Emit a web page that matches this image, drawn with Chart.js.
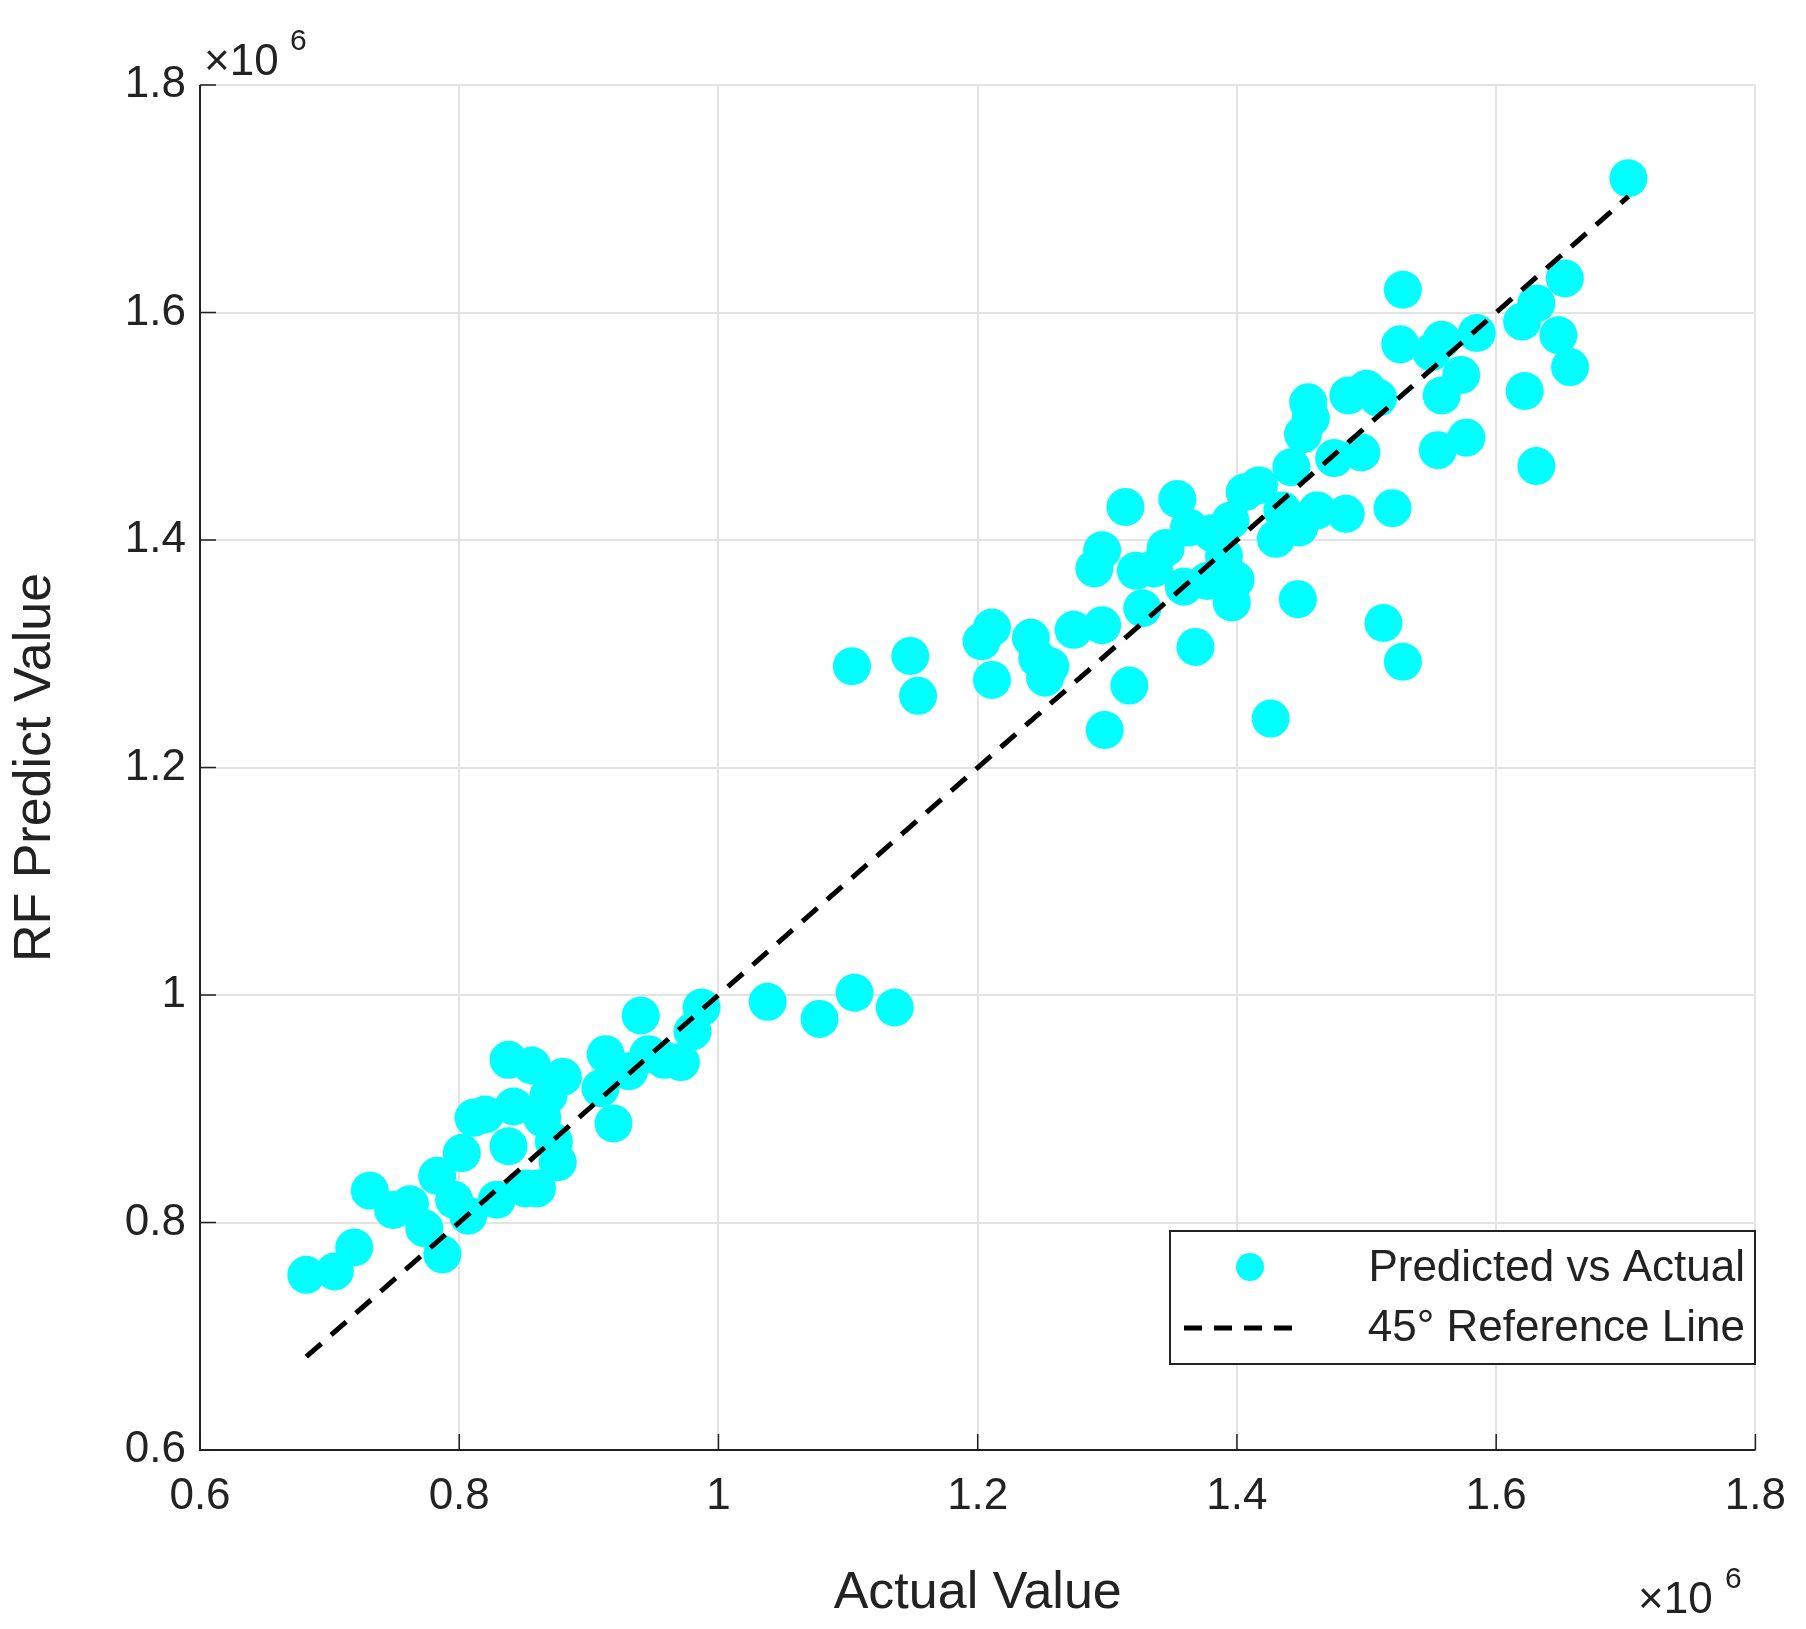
<!DOCTYPE html>
<html>
<head>
<meta charset="utf-8">
<script src="https://cdn.jsdelivr.net/npm/chart.js@4/dist/chart.umd.min.js"></script>
<style>
  body { margin: 0; background: #fff; }
  canvas { display: block; }
</style>
</head>
<body>
<canvas id="chart" width="1806" height="1629"></canvas>
<script>
// values in units of 1e6
const actual = [
  0.682, 0.704, 0.719, 0.731, 0.749, 0.762, 0.773, 0.783, 0.787, 0.796,
  0.802, 0.807, 0.811, 0.820, 0.829, 0.838, 0.838, 0.842, 0.851, 0.856,
  0.860, 0.864, 0.873, 0.876, 0.880, 0.869, 0.909, 0.913, 0.919, 0.931,
  0.940, 0.946, 0.958, 0.971, 0.980, 0.987, 1.038, 1.078, 1.105, 1.136,
  1.103, 1.148, 1.154, 1.203, 1.211, 1.211, 1.241, 1.246, 1.252, 1.256,
  1.274, 1.290, 1.296, 1.296, 1.298, 1.314, 1.317, 1.322, 1.327, 1.336,
  1.345, 1.354, 1.359, 1.363, 1.368, 1.377, 1.381, 1.390, 1.395, 1.396,
  1.399, 1.406, 1.417, 1.426, 1.430, 1.435, 1.442, 1.447, 1.448, 1.451,
  1.455, 1.457, 1.462, 1.475, 1.484, 1.486, 1.496, 1.500, 1.509, 1.513,
  1.520, 1.526, 1.528, 1.528, 1.550, 1.555, 1.558, 1.558, 1.573, 1.577,
  1.585, 1.620, 1.622, 1.631, 1.631, 1.648, 1.653, 1.657, 1.702
];
const predicted = [
  0.754, 0.757, 0.778, 0.828, 0.811, 0.816, 0.795, 0.841, 0.772, 0.820,
  0.861, 0.806, 0.892, 0.895, 0.820, 0.943, 0.867, 0.902, 0.830, 0.938,
  0.830, 0.892, 0.871, 0.853, 0.928, 0.912, 0.918, 0.948, 0.887, 0.933,
  0.982, 0.948, 0.943, 0.941, 0.968, 0.989, 0.994, 0.979, 1.002, 0.989,
  1.289, 1.298, 1.263, 1.311, 1.323, 1.277, 1.314, 1.296, 1.279, 1.289,
  1.321, 1.375, 1.391, 1.325, 1.233, 1.429, 1.272, 1.373, 1.340, 1.375,
  1.393, 1.436, 1.359, 1.411, 1.306, 1.364, 1.406, 1.386, 1.417, 1.345,
  1.365, 1.442, 1.448, 1.243, 1.401, 1.426, 1.464, 1.348, 1.411, 1.493,
  1.521, 1.507, 1.426, 1.472, 1.423, 1.527, 1.477, 1.533, 1.525, 1.327,
  1.428, 1.572, 1.293, 1.620, 1.565, 1.479, 1.527, 1.576, 1.545, 1.490,
  1.582, 1.592, 1.531, 1.608, 1.465, 1.580, 1.630, 1.552, 1.718
];
const refLine = [0.682, 1.702];
const tickValues = [0.6, 0.8, 1, 1.2, 1.4, 1.6, 1.8];

const FONT = "'Liberation Sans', Arial, sans-serif";

const extras = {
  id: "extras",
  afterDraw(chart) {
    const ctx = chart.ctx;
    const a = chart.chartArea;
    ctx.save();
    // axis lines
    ctx.strokeStyle = "#222";
    ctx.lineWidth = 2;
    ctx.beginPath();
    ctx.moveTo(a.left, a.top);
    ctx.lineTo(a.left, a.bottom);
    ctx.lineTo(a.right, a.bottom);
    ctx.stroke();
    // inward ticks
    ctx.lineWidth = 1.5;
    tickValues.forEach(v => {
      const x = chart.scales.x.getPixelForValue(v);
      const y = chart.scales.y.getPixelForValue(v);
      ctx.beginPath();
      ctx.moveTo(x, a.bottom); ctx.lineTo(x, a.bottom - 16);
      ctx.moveTo(a.left, y); ctx.lineTo(a.left + 16, y);
      ctx.stroke();
    });
    // exponent labels
    ctx.fillStyle = "#222";
    ctx.font = "44px " + FONT;
    ctx.textBaseline = "alphabetic";
    ctx.fillText("\u00d710", 204, 75);
    ctx.font = "30px " + FONT;
    ctx.fillText("6", 290, 50);
    ctx.font = "44px " + FONT;
    ctx.fillText("\u00d710", 1638, 1613);
    ctx.font = "30px " + FONT;
    ctx.fillText("6", 1725, 1588);
    // legend box
    const bx = 1170, by = 1231, bw = 585, bh = 133;
    ctx.fillStyle = "#fff";
    ctx.fillRect(bx, by, bw, bh);
    ctx.strokeStyle = "#222";
    ctx.lineWidth = 2;
    ctx.strokeRect(bx, by, bw, bh);
    ctx.fillStyle = "#00ffff";
    ctx.beginPath();
    ctx.arc(bx + 80, by + 36, 14, 0, Math.PI * 2);
    ctx.fill();
    ctx.strokeStyle = "#000";
    ctx.lineWidth = 5;
    ctx.setLineDash([18, 12]);
    ctx.beginPath();
    ctx.moveTo(bx + 14, by + 97); ctx.lineTo(bx + 130, by + 97);
    ctx.stroke();
    ctx.setLineDash([]);
    ctx.fillStyle = "#222";
    ctx.font = "44px " + FONT;
    ctx.textAlign = "right";
    ctx.textBaseline = "middle";
    ctx.fillText("Predicted vs Actual", bx + bw - 10, by + 38);
    ctx.fillText("45\u00b0 Reference Line", bx + bw - 10, by + 98);
    ctx.restore();
  }
};

new Chart(document.getElementById("chart"), {
  type: "scatter",
  data: {
    datasets: [
      {
        label: "Predicted vs Actual",
        data: actual.map((x, i) => ({ x: x, y: predicted[i] })),
        backgroundColor: "#00ffff",
        borderWidth: 0,
        pointRadius: 19,
        order: 2
      },
      {
        label: "45\u00b0 Reference Line",
        type: "line",
        data: refLine.map(v => ({ x: v, y: v })),
        borderColor: "#000",
        borderWidth: 5,
        borderDash: [20, 13],
        pointRadius: 0,
        fill: false,
        order: 1
      }
    ]
  },
  options: {
    responsive: false,
    animation: false,
    devicePixelRatio: 1,
    layout: { padding: { top: 85, right: 45, left: 0, bottom: 0 } },
    plugins: { legend: { display: false }, tooltip: { enabled: false } },
    scales: {
      x: {
        type: "linear", min: 0.6, max: 1.8,
        afterBuildTicks: s => { s.ticks = tickValues.map(v => ({ value: v })); },
        afterFit: s => { s.height = 179; },
        grid: { color: "#e3e3e3", lineWidth: 2, drawTicks: false },
        border: { display: false },
        ticks: { color: "#222", font: { family: FONT, size: 44 }, padding: 20,
                 callback: v => String(Math.round(v * 10) / 10) },
        title: { display: true, text: "Actual Value", color: "#222",
                 font: { family: FONT, size: 52 }, padding: { top: 14 } }
      },
      y: {
        type: "linear", min: 0.6, max: 1.8,
        afterBuildTicks: s => { s.ticks = tickValues.map(v => ({ value: v })); },
        afterFit: s => { s.width = 200; },
        grid: { color: "#e3e3e3", lineWidth: 2, drawTicks: false },
        border: { display: false },
        ticks: { color: "#222", font: { family: FONT, size: 44 }, padding: 14,
                 callback: v => String(Math.round(v * 10) / 10) },
        title: { display: true, text: "RF Predict Value", color: "#222",
                 font: { family: FONT, size: 52 }, padding: { bottom: 8 } }
      }
    }
  },
  plugins: [extras]
});
</script>
</body>
</html>
